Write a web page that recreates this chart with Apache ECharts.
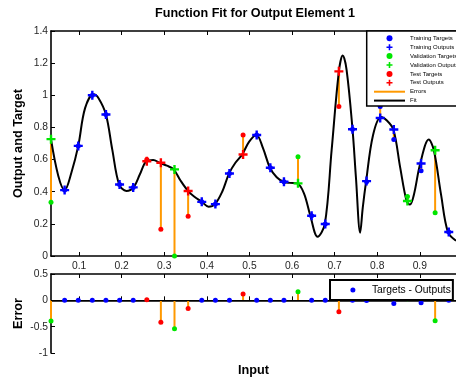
<!DOCTYPE html>
<html><head><meta charset="utf-8">
<script src="https://cdn.jsdelivr.net/npm/echarts@6/dist/echarts.min.js"></script>
<style>html,body{margin:0;padding:0;background:#fff}#c{width:456px;height:379px}</style>
</head><body><div id="c"></div>
<script>
// ---- data ----
const inputs = [0.034,0.066,0.098,0.131,0.163,0.195,0.227,0.259,0.292,0.324,
                0.356,0.388,0.420,0.453,0.485,0.517,0.549,0.581,0.614,0.646,
                0.678,0.710,0.742,0.775,0.807,0.839,0.871,0.903,0.936,0.968];
const targets = [0.335,0.41,0.685,1.0,0.88,0.445,0.427,0.60,0.166,0.0,
                 0.248,0.337,0.323,0.513,0.753,0.753,0.549,0.462,0.617,0.25,
                 0.199,0.93,0.789,0.462,0.93,0.725,0.37,0.53,0.269,0.149];
const outputs = [0.727,0.41,0.685,1.0,0.88,0.445,0.427,0.59,0.58,0.539,
                 0.404,0.337,0.323,0.513,0.632,0.753,0.549,0.462,0.452,0.25,
                 0.199,1.149,0.789,0.466,0.859,0.787,0.342,0.576,0.658,0.149];
const sets = ['val','train','train','train','train','train','train','test','test','val',
              'test','train','train','train','test','train','train','train','val','train',
              'train','test','train','train','train','train','val','train','val','train'];
const fitX = [0.034,0.051,0.066,0.082,0.098,0.114,0.134,0.146,0.163,0.178,
              0.194,0.211,0.228,0.243,0.258,0.274,0.289,0.306,0.322,0.338,
              0.356,0.370,0.388,0.404,0.419,0.436,0.452,0.467,0.483,0.499,
              0.516,0.532,0.548,0.564,0.580,0.595,0.612,0.628,0.643,0.660,
              0.677,0.693,0.710,0.719,0.728,0.742,0.750,0.760,0.766,0.774,
              0.790,0.809,0.822,0.838,0.854,0.869,0.877,0.886,0.901,0.921,
              0.933,0.950,0.966,0.985];
const fitY = [0.727,0.50,0.41,0.52,0.685,0.92,1.006,0.98,0.88,0.66,
              0.445,0.405,0.427,0.51,0.59,0.598,0.58,0.562,0.539,0.47,
              0.404,0.37,0.337,0.307,0.323,0.40,0.513,0.58,0.632,0.71,
              0.755,0.67,0.549,0.49,0.462,0.455,0.452,0.39,0.25,0.12,
              0.199,0.66,1.149,1.248,1.16,0.789,0.49,0.145,0.30,0.466,
              0.75,0.865,0.845,0.787,0.55,0.342,0.32,0.38,0.576,0.725,
              0.658,0.38,0.149,0.095];
const xTicks = [0.1,0.2,0.3,0.4,0.5,0.6,0.7,0.8,0.9];
const legendNames = ['Training Targets','Training Outputs','Validation Targets','Validation Outputs','Test Targets','Test Outputs','Errors','Fit'];

// ---- styling ----
const FONT = 'Liberation Sans, Arial, sans-serif';
const BLUE = '#0000FF', GREEN = '#00E600', RED = '#FF0000', ORANGE = '#FF9900';
const CROSS = 'path://M3.3,0H5.7V3.3H9V5.7H5.7V9H3.3V5.7H0V3.3H3.3Z';
const LINEICON = 'path://M0,0H31V2H0Z';
const setColor = {train: BLUE, val: GREEN, test: RED};
const setLabel = {train: 'Training', val: 'Validation', test: 'Test'};

function pts(set, arr) {
  const out = [];
  inputs.forEach((x, i) => { if (sets[i] === set) out.push([x, arr[i]]); });
  return out;
}
const errors = targets.map((t, i) => t - outputs[i]);
function errPts(set) {
  const out = [];
  inputs.forEach((x, i) => { if (sets[i] === set) out.push([x, errors[i]]); });
  return out;
}

const xMin = inputs[0], xMax = 0.985;
const axisLine = {show: true, lineStyle: {color: '#000', width: 1.6}};
const tickIn = {show: true, inside: true, length: 4, lineStyle: {color: '#000', width: 1}, customValues: xTicks};
const lab = {color: '#262626', fontSize: 10.3, fontFamily: FONT};
const nameStyle = {color: '#000', fontSize: 12.7, fontWeight: 'bold', fontFamily: FONT};

const series = [];
series.push({
  name: 'Errors', type: 'custom', xAxisIndex: 0, yAxisIndex: 0, z: 1,
  itemStyle: {color: ORANGE},
  data: inputs.map((x, i) => [x, targets[i], outputs[i]]),
  encode: {x: 0, y: [1, 2]},
  renderItem: (params, api) => {
    const a = api.coord([api.value(0), api.value(1)]);
    const b = api.coord([api.value(0), api.value(2)]);
    return {type: 'line', shape: {x1: a[0], y1: a[1], x2: b[0], y2: b[1]},
            style: {stroke: ORANGE, lineWidth: 2}};
  }
});
series.push({
  name: 'Fit', type: 'line', xAxisIndex: 0, yAxisIndex: 0, z: 2,
  data: fitX.map((x, i) => [x, fitY[i]]), smooth: 0.35, showSymbol: false,
  itemStyle: {color: '#000'}, lineStyle: {color: '#000', width: 2}, silent: true
});
['train', 'val', 'test'].forEach(s => {
  series.push({
    name: setLabel[s] + ' Targets', type: 'scatter', xAxisIndex: 0, yAxisIndex: 0, z: 3,
    symbol: 'circle', symbolSize: 5, itemStyle: {color: setColor[s], opacity: 1},
    data: pts(s, targets)
  });
  series.push({
    name: setLabel[s] + ' Outputs', type: 'scatter', xAxisIndex: 0, yAxisIndex: 0, z: 4,
    symbol: CROSS, symbolSize: 9, itemStyle: {color: setColor[s], opacity: 1},
    data: pts(s, outputs)
  });
});
// bottom panel
series.push({
  name: 'Error Stems', type: 'custom', xAxisIndex: 2, yAxisIndex: 1, z: 1,
  itemStyle: {color: ORANGE},
  data: inputs.map((x, i) => [x, 0, errors[i]]),
  encode: {x: 0, y: [1, 2]},
  renderItem: (params, api) => {
    const a = api.coord([api.value(0), api.value(1)]);
    const b = api.coord([api.value(0), api.value(2)]);
    return {type: 'line', shape: {x1: a[0], y1: a[1], x2: b[0], y2: b[1]},
            style: {stroke: ORANGE, lineWidth: 2}};
  }
});
series.push({
  name: 'Targets - Outputs', type: 'scatter', xAxisIndex: 2, yAxisIndex: 1, z: 3,
  symbol: 'circle', symbolSize: 5, itemStyle: {color: BLUE, opacity: 1},
  data: errPts('train'),
  markLine: {silent: true, symbol: 'none', label: {show: false}, animation: false,
             lineStyle: {color: '#000', width: 1.2, type: 'solid'}, data: [{yAxis: 0}], z: 2}
});
series.push({
  name: 'Validation Errors', type: 'scatter', xAxisIndex: 2, yAxisIndex: 1, z: 3,
  symbol: 'circle', symbolSize: 5, itemStyle: {color: GREEN, opacity: 1}, data: errPts('val')
});
series.push({
  name: 'Test Errors', type: 'scatter', xAxisIndex: 2, yAxisIndex: 1, z: 3,
  symbol: 'circle', symbolSize: 5, itemStyle: {color: RED, opacity: 1}, data: errPts('test')
});

const icons = ['circle', CROSS, 'circle', CROSS, 'circle', CROSS, LINEICON, LINEICON];

const option = {
  animation: false,
  backgroundColor: '#fff',
  title: {text: 'Function Fit for Output Element 1', left: 155, top: 7, padding: 0,
          textStyle: {color: '#000', fontSize: 12.6, fontWeight: 'bold', fontFamily: FONT}},
  grid: [
    {left: 51, right: 0, top: 31, height: 225, containLabel: false},
    {left: 51, right: 0, top: 274, height: 79, containLabel: false}
  ],
  xAxis: [
    {gridIndex: 0, type: 'value', position: 'bottom', min: xMin, max: xMax,
     axisLine, axisTick: tickIn, splitLine: {show: false},
     axisLabel: Object.assign({margin: 5, customValues: xTicks}, lab)},
    {gridIndex: 0, type: 'value', position: 'top', min: xMin, max: xMax,
     axisLine, axisTick: tickIn, splitLine: {show: false}, axisLabel: {show: false}},
    {gridIndex: 1, type: 'value', position: 'bottom', min: xMin, max: xMax,
     axisLine, axisTick: tickIn, splitLine: {show: false}, axisLabel: {show: false},
     name: 'Input', nameLocation: 'middle', nameGap: 11, nameMoveOverlap: false, nameTextStyle: nameStyle},
    {gridIndex: 1, type: 'value', position: 'top', min: xMin, max: xMax,
     axisLine, axisTick: tickIn, splitLine: {show: false}, axisLabel: {show: false}}
  ],
  yAxis: [
    {gridIndex: 0, type: 'value', min: 0, max: 1.4, interval: 0.2,
     axisLine, axisTick: {show: true, inside: true, length: 4, lineStyle: {color: '#000'}},
     splitLine: {show: false}, axisLabel: Object.assign({margin: 3}, lab),
     name: 'Output and Target', nameLocation: 'middle', nameRotate: 90, nameGap: 26,
     nameMoveOverlap: false, nameTextStyle: nameStyle},
    {gridIndex: 1, type: 'value', min: -1, max: 0.5, interval: 0.5,
     axisLine, axisTick: {show: true, inside: true, length: 4, lineStyle: {color: '#000'}},
     splitLine: {show: false}, axisLabel: Object.assign({margin: 3}, lab),
     name: 'Error', nameLocation: 'middle', nameRotate: 90, nameGap: 26,
     nameMoveOverlap: false, nameTextStyle: nameStyle}
  ],
  legend: [
    {left: 366.7, top: 31, orient: 'vertical', padding: [4.3, 12, 2.3, 7.3],
     itemWidth: 31, itemHeight: 6, itemGap: 2.9, backgroundColor: '#fff',
     borderColor: '#000', borderWidth: 1.5, selectedMode: false, z: 10,
     textStyle: {fontSize: 6, color: '#000', fontFamily: FONT},
     data: legendNames.map((n, i) => ({name: n, icon: icons[i]}))},
    {left: 330, top: 280, orient: 'vertical', padding: [5, 2, 5, 20.4],
     itemWidth: 28, itemHeight: 5, backgroundColor: '#fff',
     borderColor: '#000', borderWidth: 2, selectedMode: false, z: 10,
     textStyle: {fontSize: 10.3, color: '#000', fontFamily: FONT},
     data: [{name: 'Targets - Outputs', icon: 'circle'}]}
  ],
  series
};
const chart = echarts.init(document.getElementById('c'), null, {renderer: 'canvas'});
chart.setOption(option);
</script>
</body></html>
